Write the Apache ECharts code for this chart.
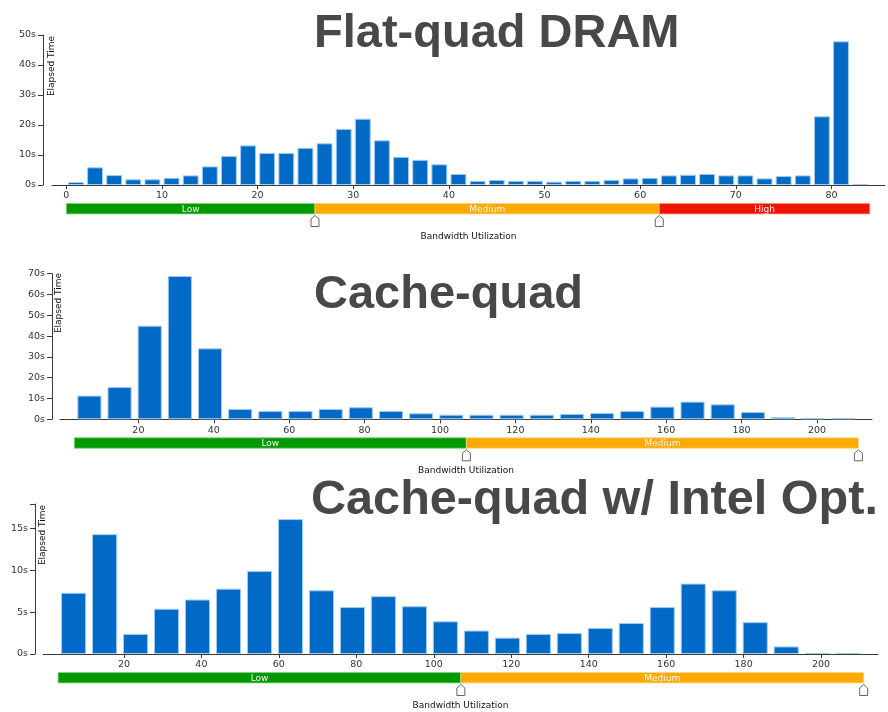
<!DOCTYPE html>
<html>
<head>
<meta charset="utf-8">
<script src="https://cdn.jsdelivr.net/npm/echarts@6/dist/echarts.min.js"></script>
<style>
html,body{margin:0;padding:0;background:#fff;}
#c{width:888px;height:712px;}
</style>
</head>
<body>
<div id="c"></div>
<script>
// ---------- data ----------
const titles = ['Flat-quad DRAM', 'Cache-quad', 'Cache-quad w/ Intel Opt.'];

// Flat-quad DRAM (bins of 2)
const dramBins = [1,3,5,7,9,11,13,15,17,19,21,23,25,27,29,31,33,35,37,39,41,43,45,47,49,51,53,55,57,59,61,63,65,67,69,71,73,75,77,79,81,83];
const dramTime = [1.0,5.9,3.3,1.9,1.9,2.4,3.2,6.2,9.7,13.2,10.7,10.7,12.4,13.9,18.7,22.1,14.9,9.4,8.4,6.9,3.7,1.4,1.7,1.4,1.4,1.1,1.4,1.4,1.7,2.2,2.4,3.2,3.4,3.7,3.2,3.2,2.2,3.0,3.2,22.9,47.9,0.3];

// Cache-quad (bins of 8)
const cacheBins = [7,15,23,31,39,47,55,63,71,79,87,95,103,111,119,127,135,143,151,159,167,175,183,191,199,207];
const cacheTime = [11.4,15.5,45.0,68.9,34.1,5.0,4.0,4.0,5.0,5.8,4.0,2.9,2.2,2.2,2.2,2.2,2.6,3.0,4.0,6.1,8.5,7.2,3.5,1.1,0.6,0.6];

// Cache-quad w/ Intel Opt.
const optBins = [7,15,23,31,39,47,55,63,71,79,87,95,103,111,119,127,135,143,151,159,167,175,183,191,199,207];
const optTime = [7.3,14.3,2.4,5.4,6.5,7.8,9.9,16.1,7.6,5.6,6.9,5.7,3.9,2.8,1.95,2.4,2.5,3.1,3.7,5.6,8.4,7.6,3.8,0.9,0.12,0.12];

// utilization level bands
const levelNames = ['Low', 'Medium', 'High'];
const dramLevelEdges = [0, 26, 62, 84];
const dramMarkers = [26, 62];
const cacheLevelEdges = [3, 107, 211];
const cacheMarkers = [107, 211];
const optLevelEdges = [3, 107, 211];
const optMarkers = [107, 211];

// tick labels
const dramXTicks = [0,10,20,30,40,50,60,70,80];
const dramYTicks = [0,10,20,30,40,50];
const cacheXTicks = [20,40,60,80,100,120,140,160,180,200];
const cacheYTicks = [0,10,20,30,40,50,60,70];
const optXTicks = [20,40,60,80,100,120,140,160,180,200];
const optYTicks = [0,5,10,15];
const optYMax = 17.9;

// ---------- chart ----------
const chart = echarts.init(document.getElementById('c'), null, {renderer: 'canvas'});
const FONT = 'DejaVu Sans';
const AX = '#3a3a3a';
const levelColors = ['#009a00', '#fbaa00', '#f01300'];
const levelStroke = ['#7fd07f', '#ffd680', '#ff9080'];

const grids = [
  {left: 52, top: 35, width: 833, height: 150},
  {left: 60, top: 273.7, width: 812, height: 145.6},
  {left: 43, top: 504, width: 835, height: 150}
];
const xRanges = [[-1.5, 85.6], [-0.8, 214.6], [-0.9, 214.7]];
const yOffsets = [9, 8, 8];
const xTickSets = [dramXTicks, cacheXTicks, optXTicks];
const yTickSets = [dramYTicks, cacheYTicks, optYTicks];
const yMaxes = [50, 70, optYMax];
const binsSets = [dramBins, cacheBins, optBins];
const timeSets = [dramTime, cacheTime, optTime];
const edgeSets = [dramLevelEdges, cacheLevelEdges, optLevelEdges];
const markerSets = [dramMarkers, cacheMarkers, optMarkers];
const barWidths = ['83%', '80%', '81%'];

const xAxes = [], yAxes = [], series = [];
for (let i = 0; i < 3; i++) {
  xAxes.push({
    type: 'value', gridIndex: i, min: xRanges[i][0], max: xRanges[i][1],
    splitLine: {show: false},
    axisLine: {onZero: false, lineStyle: {color: AX, width: 1}},
    axisTick: {show: true, length: 4, lineStyle: {color: AX}, customValues: xTickSets[i]},
    axisLabel: {color: '#333', fontFamily: FONT, fontSize: 9.5, margin: 6, customValues: xTickSets[i]},
    name: 'Bandwidth Utilization', nameLocation: 'middle', nameGap: 47,
    nameTextStyle: {color: '#111', fontFamily: FONT, fontSize: 9}
  });
  const yt = yTickSets[i].slice();
  if (i === 2) yt.push(optYMax);
  yAxes.push({
    type: 'value', gridIndex: i, min: 0, max: yMaxes[i], offset: yOffsets[i],
    splitLine: {show: false},
    axisLine: {show: true, onZero: false, lineStyle: {color: AX, width: 1}},
    axisTick: {show: true, length: 5, lineStyle: {color: AX}, customValues: yt},
    axisLabel: {color: '#333', fontFamily: FONT, fontSize: 9.5, margin: 7,
      customValues: yTickSets[i], formatter: v => v + 's'}
  });
  series.push({
    type: 'bar', xAxisIndex: i, yAxisIndex: i,
    data: binsSets[i].map((b, k) => [b, timeSets[i][k]]),
    barWidth: barWidths[i],
    itemStyle: {color: '#006ac6', borderColor: '#a3cbef', borderWidth: 1},
    silent: true, animation: false
  });
  const edges = edgeSets[i];
  const bandData = [];
  for (let k = 0; k < edges.length - 1; k++) bandData.push([edges[k], edges[k + 1], k]);
  series.push({
    type: 'custom', xAxisIndex: i, yAxisIndex: i, clip: false, silent: true, animation: false,
    data: bandData, encode: {x: [0, 1]},
    renderItem: function (params, api) {
      const a = api.coord([api.value(0), 0]);
      const b = api.coord([api.value(1), 0]);
      const k = api.value(2);
      const y = a[1] + 18.5, h = 10.4;
      return {
        type: 'group',
        children: [
          {type: 'rect', shape: {x: a[0], y: y, width: b[0] - a[0], height: h},
            style: {fill: levelColors[k], stroke: levelStroke[k], lineWidth: 0.8}},
          {type: 'text', x: (a[0] + b[0]) / 2, y: y + h / 2 + 0.5,
            style: {text: levelNames[k], fill: '#f4f4f4', font: '9px "DejaVu Sans"',
              align: 'center', verticalAlign: 'middle'}}
        ]
      };
    }
  });
  series.push({
    type: 'custom', xAxisIndex: i, yAxisIndex: i, clip: false, silent: true, animation: false,
    data: markerSets[i].map(v => [v]), encode: {x: 0},
    renderItem: function (params, api) {
      const p = api.coord([api.value(0), 0]);
      const x = p[0], y0 = p[1] + 30.5;
      return {
        type: 'polygon',
        shape: {points: [[x, y0], [x + 4, y0 + 3.5], [x + 4, y0 + 11], [x - 4, y0 + 11], [x - 4, y0 + 3.5]]},
        style: {fill: '#ffffff', stroke: '#666', lineWidth: 1}
      };
    }
  });
}

const titleFont = 'bold 47px "Liberation Sans", Arial, sans-serif';
const titleFont3 = 'bold 48.6px "Liberation Sans", Arial, sans-serif';
const graphics = [
  {type: 'text', x: 314, y: 34, style: {text: titles[0], font: titleFont, fill: '#48484b', align: 'left', verticalAlign: 'middle'}},
  {type: 'text', x: 314, y: 295, style: {text: titles[1], font: titleFont, fill: '#48484b', align: 'left', verticalAlign: 'middle'}},
  {type: 'text', x: 311, y: 501, style: {text: titles[2], font: titleFont3, fill: '#48484b', align: 'left', verticalAlign: 'middle'}},
  {type: 'text', x: 51.7, y: 66, rotation: Math.PI / 2, style: {text: 'Elapsed Time', font: '9px "DejaVu Sans"', fill: '#111', align: 'center', verticalAlign: 'middle'}},
  {type: 'text', x: 59, y: 303, rotation: Math.PI / 2, style: {text: 'Elapsed Time', font: '9px "DejaVu Sans"', fill: '#111', align: 'center', verticalAlign: 'middle'}},
  {type: 'text', x: 42.7, y: 535, rotation: Math.PI / 2, style: {text: 'Elapsed Time', font: '9px "DejaVu Sans"', fill: '#111', align: 'center', verticalAlign: 'middle'}}
];

chart.setOption({
  animation: false,
  backgroundColor: '#ffffff',
  grid: grids,
  xAxis: xAxes,
  yAxis: yAxes,
  series: series,
  graphic: graphics
});
</script>
</body>
</html>
